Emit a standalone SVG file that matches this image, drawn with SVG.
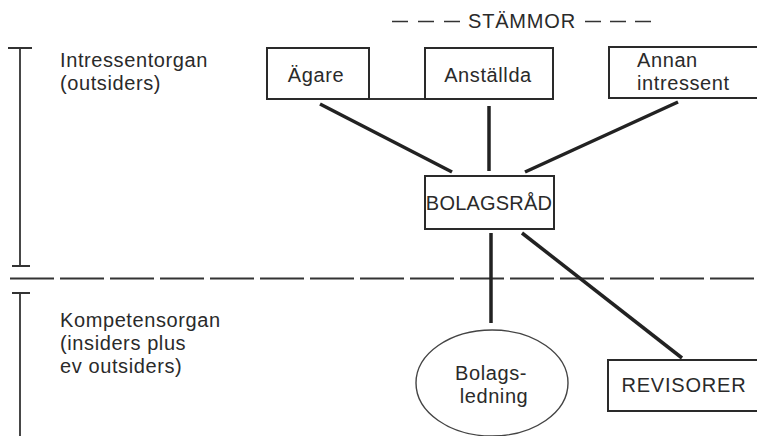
<svg xmlns="http://www.w3.org/2000/svg" width="757" height="436" viewBox="0 0 757 436">
<style>
text{font-family:"Liberation Sans",Arial,sans-serif;fill:#2a2a2a;font-size:20px;letter-spacing:0.6px}
.box{fill:#fff;stroke:#2a2a2a;stroke-width:2}
.conn{stroke:#222;stroke-width:3.5;fill:none}
.thin{stroke:#333;stroke-width:1.8;fill:none}
.mid{text-anchor:middle}
</style>
<rect width="757" height="436" fill="#fff"/>
<g id="brackets">
<path class="thin" d="M8 48H32M20 48V266M12 266H30"/>
<path class="thin" d="M12 293H30M20 293V436"/>
</g>
<g id="divider">
<line x1="10" y1="278.5" x2="757" y2="278.5" stroke="#333" stroke-width="2" stroke-dasharray="44 6"/>
</g>
<g id="labels">
<text x="60" y="67">Intressentorgan</text>
<text x="60" y="90">(outsiders)</text>
<text x="60" y="327">Kompetensorgan</text>
<text x="60" y="350">(insiders plus</text>
<text x="60" y="373">ev outsiders)</text>
<line x1="392" y1="21.5" x2="460" y2="21.5" stroke="#333" stroke-width="1.6" stroke-dasharray="16 10"/>
<text x="522" y="28" class="mid" style="font-size:20px;letter-spacing:0.8px">STÄMMOR</text>
<line x1="585" y1="21.5" x2="651" y2="21.5" stroke="#333" stroke-width="1.6" stroke-dasharray="16 9"/>
</g>
<g id="connectors">
<line class="thin" x1="369" y1="99" x2="425" y2="99" style="stroke-width:2"/>
<line class="conn" x1="320" y1="104" x2="452" y2="172"/>
<line class="conn" x1="489" y1="106" x2="489" y2="171"/>
<line class="conn" x1="678" y1="102" x2="525" y2="172"/>
<line class="conn" x1="491" y1="233" x2="491" y2="323"/>
<line class="conn" x1="522" y1="233" x2="682" y2="358"/>
</g>
<g id="agare">
<rect class="box" x="267" y="48" width="102" height="51"/>
<text x="316" y="82" class="mid">Ägare</text>
</g>
<g id="anstallda">
<rect class="box" x="425" y="48" width="128" height="51"/>
<text x="488" y="82" class="mid">Anställda</text>
</g>
<g id="annan">
<rect class="box" x="609" y="47" width="152" height="51"/>
<text x="637" y="67">Annan</text>
<text x="637" y="90">intressent</text>
</g>
<g id="bolagsrad">
<rect class="box" x="425" y="176" width="129" height="53"/>
<text x="489" y="210" class="mid" style="font-size:20px;letter-spacing:0.2px">BOLAGSRÅD</text>
</g>
<g id="bolagsledning">
<ellipse cx="492" cy="383" rx="76" ry="53" fill="#fff" stroke="#444" stroke-width="1.4"/>
<text x="491" y="380" class="mid">Bolags-</text>
<text x="494" y="403" class="mid">ledning</text>
</g>
<g id="revisorer">
<rect class="box" x="608" y="360" width="153" height="51"/>
<text x="684" y="392" class="mid" style="font-size:20px;letter-spacing:0.8px">REVISORER</text>
</g>
</svg>
